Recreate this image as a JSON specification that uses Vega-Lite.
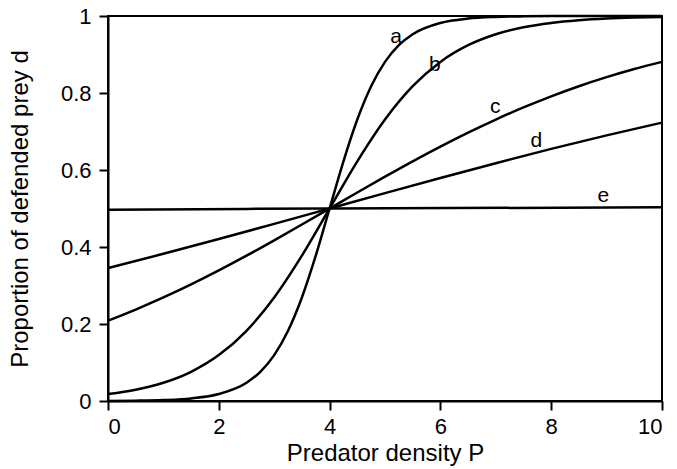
{
  "$schema": "https://vega.github.io/schema/vega-lite/v6.json",
  "width": 554,
  "height": 385,
  "autosize": {"type": "none"},
  "padding": {"left": 108, "top": 16, "right": 15, "bottom": 68},
  "background": "white",
  "config": {
    "font": "Liberation Sans",
    "view": {"stroke": "black", "strokeWidth": 2},
    "axis": {
      "domainColor": "black", "domainWidth": 2, "tickColor": "black", "tickWidth": 2, "tickSize": 9,
      "labelColor": "black", "labelFontSize": 22, "labelFont": "Liberation Sans",
      "titleColor": "black", "titleFontSize": 24, "titleFont": "Liberation Sans", "titleFontWeight": "normal",
      "grid": false
    }
  },
  "datasets": {
    "curves": [
      {"s": "a", "P": 0, "d": 0.0003}, {"s": "a", "P": 0.5, "d": 0.0009}, {"s": "a", "P": 1, "d": 0.0025}, {"s": "a", "P": 1.5, "d": 0.0067},
      {"s": "a", "P": 2, "d": 0.018}, {"s": "a", "P": 2.5, "d": 0.0474}, {"s": "a", "P": 2.75, "d": 0.0759}, {"s": "a", "P": 3, "d": 0.1192},
      {"s": "a", "P": 3.25, "d": 0.1824}, {"s": "a", "P": 3.5, "d": 0.2689}, {"s": "a", "P": 3.75, "d": 0.3775}, {"s": "a", "P": 4, "d": 0.5},
      {"s": "a", "P": 4.25, "d": 0.6225}, {"s": "a", "P": 4.5, "d": 0.7311}, {"s": "a", "P": 4.75, "d": 0.8176}, {"s": "a", "P": 5, "d": 0.8808},
      {"s": "a", "P": 5.25, "d": 0.9241}, {"s": "a", "P": 5.5, "d": 0.9526}, {"s": "a", "P": 6, "d": 0.982}, {"s": "a", "P": 6.5, "d": 0.9933},
      {"s": "a", "P": 7, "d": 0.9975}, {"s": "a", "P": 7.5, "d": 0.9991}, {"s": "a", "P": 8, "d": 0.9997}, {"s": "a", "P": 9, "d": 1.0}, {"s": "a", "P": 10, "d": 1.0},
      {"s": "b", "P": 0, "d": 0.018}, {"s": "b", "P": 0.5, "d": 0.0293}, {"s": "b", "P": 1, "d": 0.0474}, {"s": "b", "P": 1.5, "d": 0.0759},
      {"s": "b", "P": 2, "d": 0.1192}, {"s": "b", "P": 2.5, "d": 0.1824}, {"s": "b", "P": 3, "d": 0.2689}, {"s": "b", "P": 3.5, "d": 0.3775},
      {"s": "b", "P": 4, "d": 0.5}, {"s": "b", "P": 4.5, "d": 0.6225}, {"s": "b", "P": 5, "d": 0.7311}, {"s": "b", "P": 5.5, "d": 0.8176},
      {"s": "b", "P": 6, "d": 0.8808}, {"s": "b", "P": 6.5, "d": 0.9241}, {"s": "b", "P": 7, "d": 0.9526}, {"s": "b", "P": 7.5, "d": 0.9707},
      {"s": "b", "P": 8, "d": 0.982}, {"s": "b", "P": 8.5, "d": 0.989}, {"s": "b", "P": 9, "d": 0.9933}, {"s": "b", "P": 9.5, "d": 0.9959}, {"s": "b", "P": 10, "d": 0.9975},
      {"s": "c", "P": 0, "d": 0.2086}, {"s": "c", "P": 0.5, "d": 0.2375}, {"s": "c", "P": 1, "d": 0.2689}, {"s": "c", "P": 1.5, "d": 0.3029},
      {"s": "c", "P": 2, "d": 0.3392}, {"s": "c", "P": 2.5, "d": 0.3775}, {"s": "c", "P": 3, "d": 0.4174}, {"s": "c", "P": 3.5, "d": 0.4584},
      {"s": "c", "P": 4, "d": 0.5}, {"s": "c", "P": 4.5, "d": 0.5416}, {"s": "c", "P": 5, "d": 0.5826}, {"s": "c", "P": 5.5, "d": 0.6225},
      {"s": "c", "P": 6, "d": 0.6608}, {"s": "c", "P": 6.5, "d": 0.6971}, {"s": "c", "P": 7, "d": 0.7311}, {"s": "c", "P": 7.5, "d": 0.7625},
      {"s": "c", "P": 8, "d": 0.7914}, {"s": "c", "P": 8.5, "d": 0.8176}, {"s": "c", "P": 9, "d": 0.8411}, {"s": "c", "P": 9.5, "d": 0.8622}, {"s": "c", "P": 10, "d": 0.8808},
      {"s": "d", "P": 0, "d": 0.3452}, {"s": "d", "P": 1, "d": 0.3823}, {"s": "d", "P": 2, "d": 0.4207}, {"s": "d", "P": 3, "d": 0.4601},
      {"s": "d", "P": 4, "d": 0.5}, {"s": "d", "P": 5, "d": 0.5399}, {"s": "d", "P": 6, "d": 0.5793}, {"s": "d", "P": 7, "d": 0.6177},
      {"s": "d", "P": 8, "d": 0.6548}, {"s": "d", "P": 9, "d": 0.69}, {"s": "d", "P": 10, "d": 0.7231},
      {"s": "e", "P": 0, "d": 0.497}, {"s": "e", "P": 4, "d": 0.5}, {"s": "e", "P": 10, "d": 0.503}
    ],
    "labels": [
      {"lab": "a", "P": 5.2, "d": 0.945},
      {"lab": "b", "P": 5.9, "d": 0.873},
      {"lab": "c", "P": 6.99, "d": 0.764},
      {"lab": "d", "P": 7.73, "d": 0.675},
      {"lab": "e", "P": 8.94, "d": 0.532}
    ]
  },
  "layer": [
    {
      "data": {"name": "curves"},
      "mark": {"type": "line", "color": "black", "strokeWidth": 2.5, "interpolate": "monotone"},
      "encoding": {
        "x": {"field": "P", "type": "quantitative", "scale": {"domain": [0, 10], "nice": false},
          "axis": {"title": "Predator density P", "values": [0, 2, 4, 6, 8, 10], "labelPadding": 6, "titlePadding": 4}},
        "y": {"field": "d", "type": "quantitative", "scale": {"domain": [0, 1], "nice": false},
          "axis": {"title": "Proportion of defended prey d", "values": [0, 0.2, 0.4, 0.6, 0.8, 1], "format": "~g", "labelPadding": 8, "titlePadding": 28}},
        "detail": {"field": "s", "type": "nominal"}
      }
    },
    {
      "data": {"name": "labels"},
      "mark": {"type": "text", "fontSize": 21, "color": "black", "align": "center", "baseline": "middle", "font": "Liberation Sans"},
      "encoding": {
        "x": {"field": "P", "type": "quantitative"},
        "y": {"field": "d", "type": "quantitative"},
        "text": {"field": "lab", "type": "nominal"}
      }
    }
  ]
}
